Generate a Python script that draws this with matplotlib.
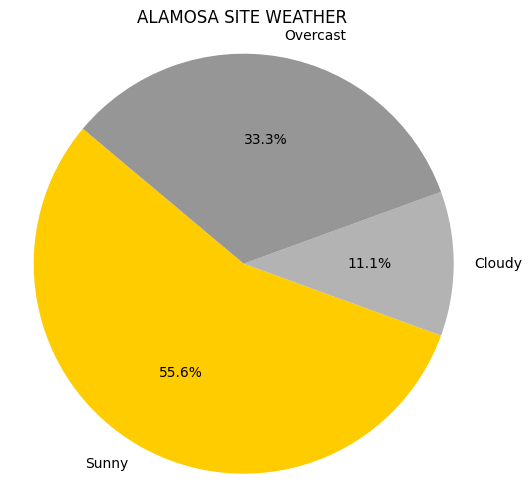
import matplotlib
matplotlib.use("Agg")
import matplotlib.pyplot as plt

labels = ["Sunny", "Cloudy", "Overcast"]
values = [5, 1, 3]
colors = ["#FFCC00", "#B3B3B3", "#969696"]

W, H = 532, 504
cx, cy, r = 243.7, 263.7, 210  # pixel center (from top) and radius

fig = plt.figure(figsize=(W / 100, H / 100), dpi=100)
ax = fig.add_axes([0, 0, 1, 1])
ax.pie(values, labels=labels, colors=colors, autopct="%1.1f%%", startangle=140)
ax.set_aspect("auto")
ax.set_xlim(-cx / r, (W - cx) / r)
ax.set_ylim(-(H - cy) / r, cy / r)
fig.text(242 / W, 1 - 18 / H, "ALAMOSA SITE WEATHER", ha="center", va="center", fontsize=12)
fig.savefig("out.png", dpi=100)
